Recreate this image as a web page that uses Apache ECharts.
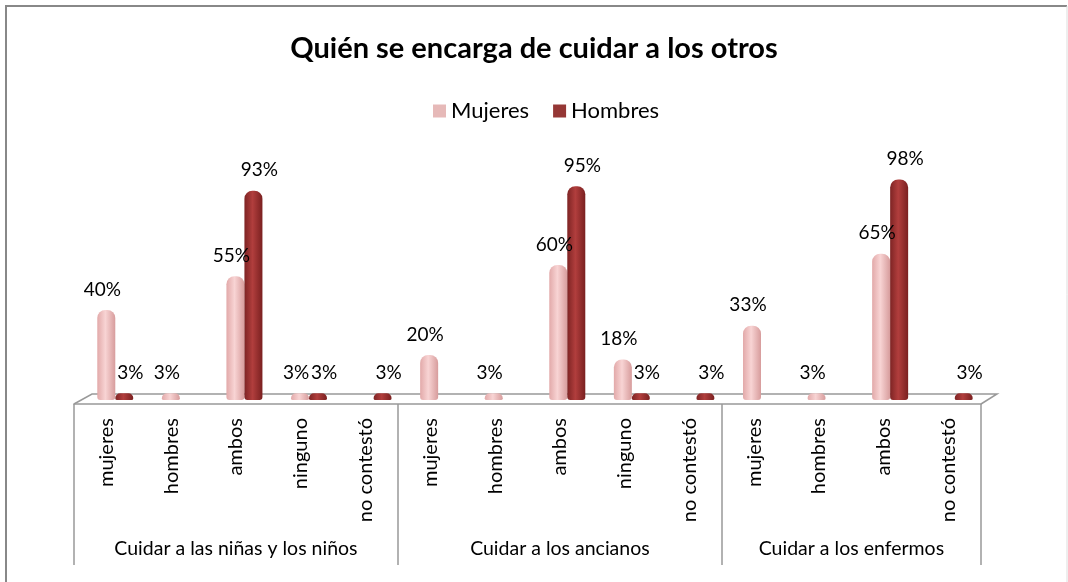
<!DOCTYPE html>
<html>
<head>
<meta charset="utf-8">
<script src="https://cdn.jsdelivr.net/npm/echarts@6/dist/echarts.min.js"></script>
<style>
  html, body { margin: 0; padding: 0; background: #fff; }
  #mychart { width: 1068px; height: 582px; }
</style>
</head>
<body>
<div id="mychart"></div>
<script>
// datos
var categorias = ['mujeres', 'hombres', 'ambos', 'ninguno', 'no contestó',
                  'mujeres', 'hombres', 'ambos', 'ninguno', 'no contestó',
                  'mujeres', 'hombres', 'ambos', 'no contestó']
var mujeres = [40, 3, 55, 3, null, 20, 3, 60, 18, null, 33, 3, 65, null]
var hombres = [3, null, 93, 3, 3, null, null, 95, 3, 3, null, null, 98, 3]
var grupos = ['Cuidar a las niñas y los niños', 'Cuidar a los ancianos', 'Cuidar a los enfermos']
var gruposLimites = [0, 5, 10, 14]
var gruposCentros = [2.5, 7.5, 12]

var fuente = 'Lato, "Noto Sans", sans-serif'

function cilindro(c1, c2, c3) {
  return new echarts.graphic.LinearGradient(0, 0, 1, 0, [
    { offset: 0, color: c1 },
    { offset: 0.45, color: c2 },
    { offset: 1, color: c3 }
  ])
}

function etiqueta(dx) {
  return {
    show: true,
    position: 'top',
    distance: 11,
    offset: [dx, 0],
    fontSize: 19,
    fontFamily: fuente,
    color: '#000',
    formatter: function (p) { return p.value + '%' }
  }
}

var myChart = echarts.init(document.getElementById('mychart'))

var option = {
  backgroundColor: '#fff',
  title: {
    text: 'Quién se encarga de cuidar a los otros',
    left: 'center',
    top: 29,
    textStyle: { fontSize: 29, fontWeight: 'bold', fontFamily: fuente, color: '#000' }
  },
  legend: {
    data: [
      { name: 'Mujeres', itemStyle: { color: '#E6B9B8' } },
      { name: 'Hombres', itemStyle: { color: '#953735' } }
    ],
    top: 95,
    left: 428,
    itemWidth: 13,
    itemHeight: 13,
    itemGap: 24,
    icon: 'rect',
    textStyle: { fontSize: 22, fontFamily: fuente, color: '#000' }
  },
  grid: [
    // barras (desplazadas por la perspectiva)
    { left: 83, right: 81, top: 175, bottom: 182 },
    // ejes de etiquetas
    { left: 74, right: 87, top: 179, bottom: 178 }
  ],
  xAxis: [
    {
      type: 'category', gridIndex: 0, data: categorias,
      axisLine: { show: false }, axisTick: { show: false }, axisLabel: { show: false }
    },
    {
      type: 'category', gridIndex: 1, data: categorias, position: 'bottom',
      axisLine: { show: false }, axisTick: { show: false },
      axisLabel: { rotate: 90, margin: 14, fontSize: 20, fontFamily: fuente, color: '#000' }
    },
    {
      type: 'value', gridIndex: 1, min: 0, max: 14, position: 'bottom',
      splitLine: { show: false },
      axisLine: { show: true, lineStyle: { color: '#999', width: 1.5 } },
      axisTick: { show: true, customValues: gruposLimites, length: 161, lineStyle: { color: '#999', width: 1.5 } },
      axisLabel: {
        customValues: gruposCentros, margin: 135, fontSize: 19.5, fontFamily: fuente, color: '#000',
        formatter: function (v) { return grupos[gruposCentros.indexOf(v)] }
      }
    }
  ],
  yAxis: [
    { type: 'value', gridIndex: 0, min: 0, max: 100, show: false },
    { type: 'value', gridIndex: 1, min: 0, max: 100, show: false }
  ],
  graphic: [
    {
      type: 'polyline', shape: { points: [[6, 590], [6, 6], [1067, 6]] },
      style: { fill: 'none', stroke: '#888', lineWidth: 2 }, z: 0
    },
    {
      type: 'line', shape: { x1: 1067, y1: 6, x2: 1067, y2: 590 },
      style: { stroke: '#ddd', lineWidth: 1 }, z: 0
    },
    {
      type: 'polyline', shape: { points: [[74, 404], [92, 394], [997, 394], [981, 404]] },
      style: { fill: 'none', stroke: '#999', lineWidth: 1.5 }, z: 0
    }
  ],
  series: [
    {
      name: 'Mujeres', type: 'bar', xAxisIndex: 0, yAxisIndex: 0,
      data: mujeres, barWidth: 18, barGap: '0%',
      itemStyle: { color: cilindro('#E2A9A9', '#F8D4D4', '#D79C9C'), borderRadius: [8, 8, 3, 3] },
      label: etiqueta(-4),
      z: 3
    },
    {
      name: 'Hombres', type: 'bar', xAxisIndex: 0, yAxisIndex: 0,
      data: hombres, barWidth: 18, barGap: '0%',
      itemStyle: { color: cilindro('#7E2424', '#B13E3D', '#7A2020'), borderRadius: [8, 8, 3, 3] },
      label: etiqueta(6),
      z: 3
    }
  ]
}

myChart.setOption(option)
</script>
</body>
</html>
